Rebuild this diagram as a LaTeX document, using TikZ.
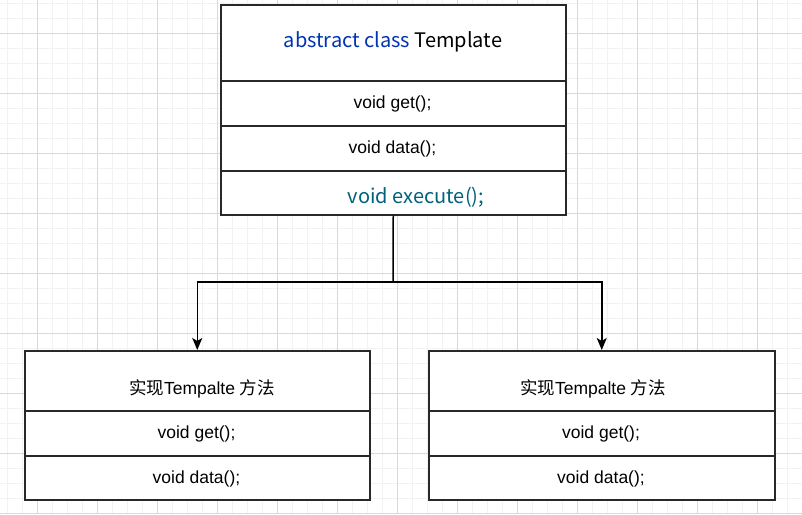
\documentclass[tikz,border=0pt]{standalone}
\usepackage{fontspec}
\setmainfont{Liberation Sans}
\newfontfamily\cjk{Noto Sans CJK SC}
\usetikzlibrary{arrows.meta}
\definecolor{kwblue}{RGB}{0,51,179}
\definecolor{exteal}{RGB}{0,98,122}
\definecolor{gridminor}{RGB}{242,242,242}
\definecolor{gridmajor}{RGB}{217,217,217}
\definecolor{boxline}{RGB}{40,40,40}
\tikzset{
  cell/.style={draw=boxline, line width=1.5pt, rectangle, inner sep=0pt, anchor=north west, minimum width=345pt},
  txt/.style={inner sep=0pt, font=\fontsize{17.5}{20}\selectfont},
  bigtxt/.style={inner sep=0pt, font=\cjk\fontsize{20}{24}\selectfont},
  link/.style={draw=black, line width=1.5pt},
  arr/.style={link, -{Stealth[length=12pt,width=10pt,inset=3pt]}}
}
\begin{document}
\begin{tikzpicture}[x=1pt,y=-1pt]
\useasboundingbox (0,0) rectangle (802,514);
\fill[white] (0,0) rectangle (802,514);
% grid
\foreach \x in {7,22,...,802} \draw[gridminor, line width=1pt] (\x,0) -- (\x,514);
\foreach \y in {3,18,...,514} \draw[gridminor, line width=1pt] (0,\y) -- (802,\y);
\foreach \x in {37,97,...,802} \draw[gridmajor, line width=1pt] (\x,0) -- (\x,514);
\foreach \y in {33,93,...,514} \draw[gridmajor, line width=1pt] (0,\y) -- (802,\y);

% top class
\node[cell, fill=white, minimum height=76pt] (t0) at (220,4) {};
\node[cell, fill=white, minimum height=45pt] (t1) at (220,80) {};
\node[cell, fill=white, minimum height=45pt] (t2) at (220,125) {};
\node[cell, fill=white, minimum height=44pt] (t3) at (220,170) {};
\node[bigtxt] (t0t) at (393,41.5) {\textcolor{kwblue}{abstract class} Template};
\node[txt] (t1t) at (392.5,103.5) {void get();};
\node[txt] (t2t) at (392.5,148.5) {void data();};
\node[bigtxt, text=exteal] (t3t) at (416,197.5) {void execute();};

% bottom left
\node[cell, fill=white, minimum height=60pt] (l0) at (24,350) {};
\node[cell, fill=white, minimum height=45pt] (l1) at (24,410) {};
\node[cell, fill=white, minimum height=44pt] (l2) at (24,455) {};
\node[txt] (l0t) at (202,388.5) {{\cjk 实现}Tempalte {\cjk 方法}};
\node[txt] (l1t) at (196.5,433.5) {void get();};
\node[txt] (l2t) at (196.5,478.5) {void data();};

% bottom right
\node[cell, fill=white, minimum height=60pt, minimum width=346pt] (r0) at (428,350) {};
\node[cell, fill=white, minimum height=45pt, minimum width=346pt] (r1) at (428,410) {};
\node[cell, fill=white, minimum height=44pt, minimum width=346pt] (r2) at (428,455) {};
\node[txt] (r0t) at (593,388.5) {{\cjk 实现}Tempalte {\cjk 方法}};
\node[txt] (r1t) at (601,433.5) {void get();};
\node[txt] (r2t) at (601,478.5) {void data();};

% connectors
\coordinate (j) at (393,282);
\draw[link] (t3.south) -- (j);
\draw[arr] (j) -| (l0.north);
\draw[arr] (j) -| (r0.north);
\end{tikzpicture}
\end{document}
